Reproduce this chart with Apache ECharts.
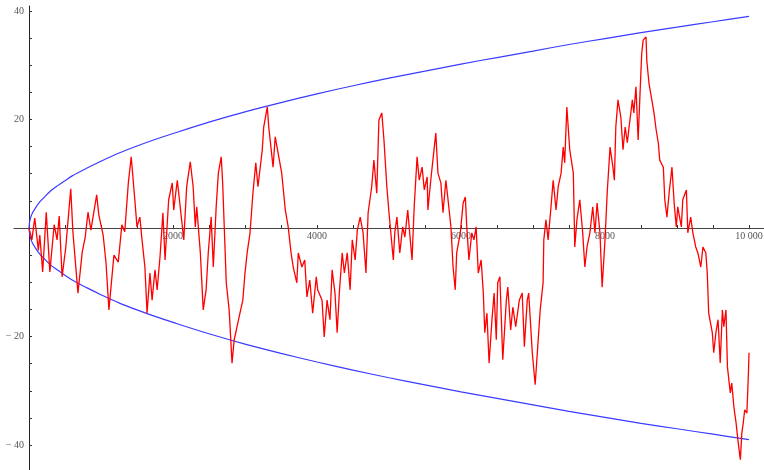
<!DOCTYPE html>
<html>
<head>
<meta charset="utf-8">
<script src="https://cdn.jsdelivr.net/npm/echarts@6/dist/echarts.min.js"></script>
<style>
  html, body { margin: 0; padding: 0; background: #fff; }
  #main { width: 764px; height: 470px; }
</style>
</head>
<body>
<div id="main"></div>
<script>
// random walk (step, position)
const walkSteps = [
  0, 40, 80, 130, 150, 190, 240, 290, 350, 390,
  420, 460, 510, 580, 610, 680, 740, 780, 820, 860,
  940, 970, 1030, 1070, 1110, 1180, 1240, 1290, 1330, 1380,
  1420, 1470, 1500, 1540, 1570, 1610, 1640, 1680, 1710, 1750,
  1780, 1820, 1860, 1890, 1940, 1990, 2010, 2060, 2100, 2150,
  2190, 2240, 2280, 2310, 2330, 2380, 2420, 2460, 2490, 2530,
  2560, 2600, 2630, 2670, 2690, 2740, 2780, 2820, 2850, 2880,
  2930, 2970, 3000, 3030, 3070, 3110, 3150, 3180, 3240, 3260,
  3310, 3330, 3390, 3420, 3460, 3510, 3560, 3600, 3640, 3670,
  3720, 3740, 3790, 3830, 3860, 3900, 3940, 3990, 4010, 4070,
  4100, 4140, 4180, 4210, 4250, 4280, 4310, 4350, 4380, 4420,
  4460, 4490, 4530, 4560, 4600, 4640, 4680, 4710, 4760, 4790,
  4830, 4860, 4900, 4930, 4970, 5000, 5060, 5080, 5110, 5150,
  5190, 5220, 5260, 5320, 5350, 5390, 5420, 5460, 5490, 5530,
  5540, 5580, 5610, 5650, 5680, 5720, 5750, 5790, 5820, 5860,
  5890, 5920, 5940, 5990, 6030, 6060, 6080, 6110, 6150, 6180,
  6210, 6240, 6280, 6310, 6330, 6360, 6390, 6430, 6460, 6490,
  6510, 6540, 6580, 6630, 6650, 6690, 6720, 6760, 6810, 6850,
  6880, 6920, 6940, 6990, 7030, 7060, 7100, 7140, 7150, 7180,
  7210, 7250, 7280, 7320, 7350, 7390, 7420, 7440, 7470, 7510,
  7560, 7580, 7610, 7650, 7690, 7720, 7750, 7790, 7830, 7860,
  7890, 7930, 7960, 8000, 8030, 8070, 8110, 8130, 8150, 8180,
  8220, 8250, 8280, 8310, 8330, 8380, 8400, 8430, 8460, 8490,
  8510, 8530, 8570, 8580, 8610, 8650, 8680, 8710, 8740, 8760,
  8810, 8830, 8860, 8890, 8930, 8960, 8990, 9010, 9060, 9080,
  9130, 9150, 9190, 9220, 9260, 9290, 9330, 9360, 9400, 9420,
  9440, 9490, 9510, 9540, 9570, 9600, 9630, 9650, 9680, 9700,
  9740, 9760, 9790, 9820, 9850, 9880, 9900, 9920, 9940, 9970,
  9990, 10000
];
const walkValues = [
  0, -2.2, 1.8, -4.1, -1.3, -8.1, 2.9, -8.1, 0.6, -2.2,
  2.2, -9.0, -3.7, 7.2, -0.7, -12.0, -4.4, -1.8, 2.9, -0.4,
  6.1, 2.4, -1.3, -6.4, -15.1, -5.0, -6.3, 0.6, -0.7, 8.3,
  13.1, 5.2, 0.2, 2.0, -2.2, -7.2, -15.7, -8.3, -13.3, -7.7,
  -11.4, -5.3, 2.8, -5.9, 5.2, 8.3, 3.3, 8.8, 3.9, -2.2,
  7.6, 12.2, 7.6, 0.2, 3.9, -4.6, -15.1, -11.4, -4.6, 2.0,
  -7.2, 3.9, 10.1, 13.1, 8.3, -10.1, -15.1, -24.9, -20.6, -18.8,
  -15.7, -13.3, -8.3, -4.6, -0.9, 6.4, 12.0, 7.6, 14.4, 18.6,
  22.3, 18.6, 11.2, 16.8, 13.8, 10.1, 3.3, 0.2, -4.6, -7.2,
  -10.1, -4.6, -7.2, -5.9, -12.7, -9.6, -15.7, -9.0, -11.4, -13.3,
  -20.1, -13.3, -16.9, -7.7, -12.0, -19.3, -12.0, -4.6, -8.3, -4.6,
  -11.4, -2.2, -5.9, -0.4, 2.0, -0.9, -8.3, 2.8, 7.6, 12.5,
  6.4, 19.9, 21.2, 16.2, 7.6, 2.8, -5.9, -0.9, 2.0, -4.6,
  0.2, -1.7, 3.3, -5.9, 3.9, 13.1, 8.8, 11.2, 7.0, 9.4,
  3.3, 8.8, 12.5, 17.5, 10.1, 8.3, 2.8, 8.8, 5.2, 0.2,
  -7.2, -11.4, -4.6, -0.9, 4.6, 5.7, 0.2, -5.9, -0.9, -2.2,
  0.2, -8.3, -5.9, -12.0, -19.3, -15.7, -24.9, -16.9, -12.0, -20.6,
  -10.1, -9.0, -24.3, -13.3, -10.9, -18.8, -14.6, -18.2, -13.3, -12.0,
  -21.9, -13.3, -12.0, -23.0, -28.9, -23.0, -15.1, -10.1, -2.2, 1.5,
  -2.2, 3.9, 8.8, 3.3, 7.6, 10.1, 14.9, 12.0, 22.3, 14.4,
  10.1, -3.5, 1.5, 5.2, -0.9, -7.2, -3.5, -0.9, 3.9, -0.9,
  4.6, -0.9, -10.9, -2.2, 6.4, 14.9, 11.2, 8.8, 18.6, 23.6,
  20.4, 14.4, 18.6, 15.7, 18.1, 23.6, 21.2, 26.0, 16.2, 26.0,
  32.2, 34.6, 35.2, 30.9, 26.7, 23.6, 21.2, 18.1, 15.7, 12.5,
  11.2, 5.2, 2.0, 6.4, 11.2, 4.6, 0.2, 3.9, 0.2, 5.2,
  7.0, -0.9, 2.0, -0.9, -3.5, -4.6, -7.2, -3.5, -4.6, -8.3,
  -15.7, -19.3, -23.0, -19.3, -16.9, -24.9, -15.1, -18.2, -15.1, -25.6,
  -30.4, -28.6, -33.0, -35.9, -39.6, -42.7, -37.8, -35.9, -33.5, -34.1,
  -27.4, -23.0
];

// envelope curve, upper branch (lower is its mirror)
const boundSteps = [0, 10, 25, 50, 100, 150, 200, 300, 400, 500, 600, 800, 1000, 1250, 1500, 1750, 2000,
  2500, 3000, 3500, 4000, 4500, 5000, 5500, 6000, 6500, 7000, 7500, 8000, 8500, 9000, 9500, 10000];
const boundValues = [0, 1.2, 2.0, 2.8, 3.9, 4.8, 5.5, 6.8, 7.8, 8.7, 9.6, 11.0, 12.3, 13.8, 15.1, 16.3, 17.4,
  19.5, 21.4, 23.1, 24.7, 26.2, 27.6, 28.9, 30.2, 31.4, 32.6, 33.8, 34.9, 36.0, 37.0, 38.0, 39.0];

// ticks
const xTickValues = [0, 500, 1000, 1500, 2000, 2500, 3000, 3500, 4000, 4500, 5000,
  5500, 6000, 6500, 7000, 7500, 8000, 8500, 9000, 9500, 10000];
const xLabelValues = [2000, 4000, 6000, 8000, 10000];
const yTickValues = [-40, -35, -30, -25, -20, -15, -10, -5, 5, 10, 15, 20, 25, 30, 35, 40];
const yLabelValues = [-40, -20, 20, 40];

const walkData = walkSteps.map((s, i) => [s, walkValues[i]]);
const upperData = boundSteps.map((s, i) => [s, boundValues[i]]);
const lowerData = boundSteps.map((s, i) => [s, -boundValues[i]]);

const myChart = echarts.init(document.getElementById('main'));
const labelFont = { fontFamily: 'Liberation Serif', fontSize: 10, color: '#555' };

// axes cross at (0,0): x axis sits 242px above the bottom edge, y axis 15px right of the left edge
myChart.setOption({
  animation: false,
  grid: { left: 14, right: 0, top: 6, bottom: 0, containLabel: false, outerBoundsMode: 'none' },
  xAxis: {
    type: 'value',
    min: -208,
    max: 10208,
    position: 'bottom',
    offset: -242,
    axisLine: { onZero: false, lineStyle: { color: '#444', width: 1 } },
    axisTick: { show: true, inside: true, length: 3, customValues: xTickValues, lineStyle: { color: '#333' } },
    axisLabel: Object.assign({
      customValues: xLabelValues,
      margin: 3,
      formatter: v => v === 10000 ? '10 000' : String(v)
    }, labelFont),
    splitLine: { show: false }
  },
  yAxis: {
    type: 'value',
    min: -44.6,
    max: 40.9,
    position: 'left',
    offset: -15,
    axisLine: { onZero: false, lineStyle: { color: '#222', width: 1 } },
    axisTick: { show: true, inside: true, length: 3, customValues: yTickValues, lineStyle: { color: '#333' } },
    axisLabel: Object.assign({
      customValues: yLabelValues,
      margin: 5,
      formatter: v => v < 0 ? '\u2212 ' + (-v) : String(v)
    }, labelFont),
    splitLine: { show: false }
  },
  series: [
    {
      type: 'line', data: upperData, showSymbol: false, smooth: 0.3,
      lineStyle: { color: '#3b3bff', width: 1.2 }, z: 2
    },
    {
      type: 'line', data: lowerData, showSymbol: false, smooth: 0.3,
      lineStyle: { color: '#3b3bff', width: 1.2 }, z: 2
    },
    {
      type: 'line', data: walkData, showSymbol: false,
      lineStyle: { color: '#ff0000', width: 1.3 }, z: 3
    }
  ]
});
</script>
</body>
</html>
